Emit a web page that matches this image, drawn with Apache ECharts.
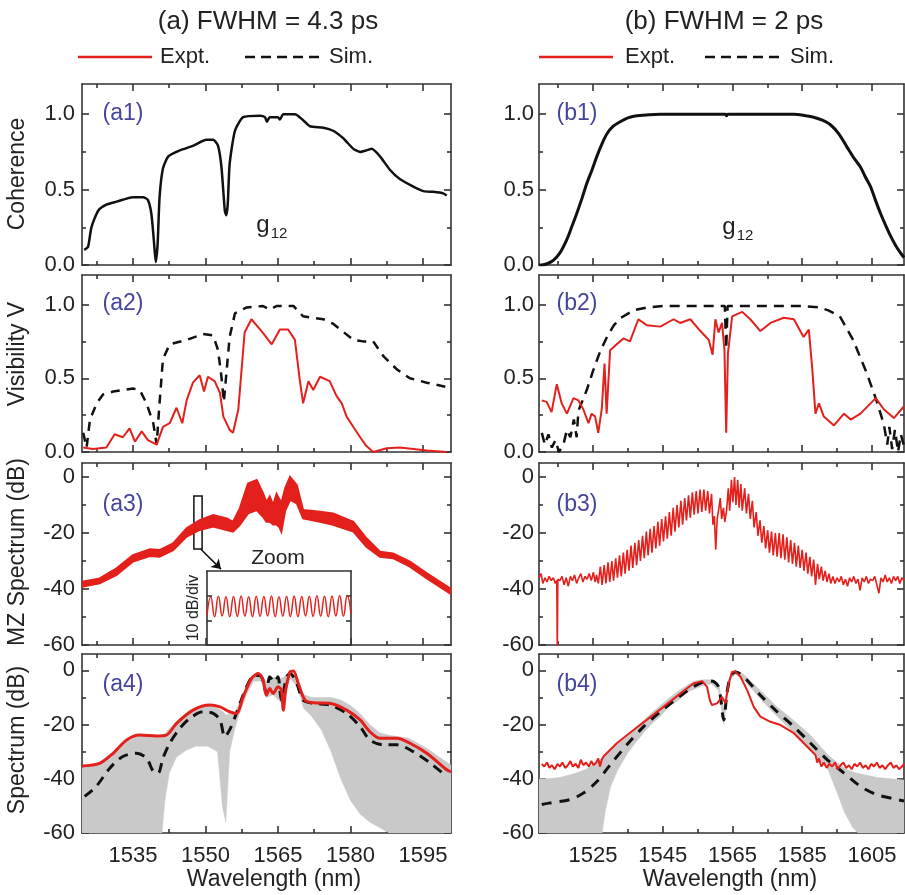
<!DOCTYPE html>
<html><head><meta charset="utf-8">
<script src="https://cdn.jsdelivr.net/npm/echarts@6/dist/echarts.min.js"></script>
<style>html,body{margin:0;padding:0;background:#fff}#c{width:905px;height:895px}</style>
</head><body><div id="c"></div><script>
// ---------- DATA ----------
const leftTicks = [1535,1550,1565,1580,1595];
const leftMinor = [1527.5,1542.5,1557.5,1572.5,1587.5];
const rightTicks = [1525,1545,1565,1585,1605];
const rightMinor = [1515,1535,1555,1575,1595];
const cohTicks = [0,0.5,1.0], cohMinor = [0.25,0.75];
const dbTicks = [-60,-40,-20,0], dbMinor = [-50,-30,-10];

const a1Coherence = [[1524.9,0.10],[1525.7,0.12],[1526.4,0.25],[1527.8,0.36],[1529.5,0.40],[1531.6,0.42],[1535.0,0.45],[1537.1,0.45],[1538.1,0.43],[1538.8,0.34],[1539.3,0.17],[1539.7,0.02],[1540.1,0.14],[1540.5,0.45],[1541.2,0.64],[1542.3,0.72],[1544.7,0.76],[1547.4,0.79],[1550.2,0.83],[1551.6,0.83],[1552.6,0.79],[1553.3,0.65],[1554.0,0.36],[1554.3,0.33],[1554.6,0.40],[1555.0,0.67],[1556.1,0.89],[1557.8,0.98],[1561.3,0.99],[1562.3,0.98],[1562.7,0.95],[1563.3,0.98],[1565.0,0.98],[1565.4,0.965],[1566.1,1.0],[1568.5,1.0],[1570.2,0.96],[1571.6,0.92],[1574.4,0.91],[1576.4,0.89],[1578.5,0.84],[1580.6,0.77],[1582.0,0.75],[1583.3,0.76],[1584.4,0.77],[1586.1,0.72],[1588.2,0.63],[1590.2,0.57],[1593.0,0.52],[1595.1,0.49],[1597.1,0.485],[1599.2,0.475],[1599.9,0.46]];
const b1Coherence = [[1509.6,0.0],[1510.3,0.0],[1512.0,0.01],[1513.6,0.03],[1515.5,0.08],[1517.5,0.17],[1519.0,0.26],[1520.3,0.34],[1521.8,0.44],[1523.2,0.54],[1524.7,0.63],[1526.1,0.72],[1527.5,0.80],[1529.0,0.87],[1530.8,0.92],[1532.8,0.95],[1535.0,0.975],[1537.6,0.99],[1544.3,1.0],[1555.0,1.0],[1563.0,1.0],[1563.3,0.99],[1563.6,1.0],[1575.0,1.0],[1582.6,1.0],[1586.0,0.99],[1588.3,0.98],[1590.8,0.96],[1593.1,0.93],[1595.5,0.87],[1597.9,0.78],[1599.8,0.71],[1601.7,0.65],[1603.2,0.58],[1604.6,0.52],[1606.0,0.43],[1607.5,0.34],[1609.0,0.26],[1610.4,0.19],[1611.8,0.13],[1613.2,0.08],[1614.2,0.05]];

const a2Expt = [[1524.7,0.03],[1526.7,0.02],[1529.5,0.03],[1531.2,0.12],[1532.9,0.10],[1534.3,0.16],[1535.4,0.07],[1536.8,0.14],[1538.1,0.08],[1539.9,0.05],[1541.2,0.17],[1542.6,0.195],[1544.0,0.30],[1545.2,0.195],[1546.1,0.35],[1547.4,0.47],[1548.8,0.52],[1549.7,0.41],[1550.5,0.51],[1551.9,0.48],[1553.0,0.40],[1553.7,0.24],[1555.0,0.15],[1555.7,0.13],[1556.8,0.29],[1558.1,0.81],[1559.5,0.90],[1561.6,0.82],[1563.7,0.73],[1565.4,0.83],[1567.1,0.83],[1568.5,0.76],[1569.5,0.49],[1570.2,0.33],[1571.3,0.48],[1572.3,0.42],[1573.7,0.51],[1575.7,0.48],[1577.1,0.38],[1578.2,0.33],[1579.2,0.24],[1580.6,0.17],[1582.0,0.10],[1583.3,0.04],[1584.7,0.0],[1587.5,0.025],[1590.2,0.03],[1593.0,0.02],[1595.8,0.01],[1599.9,0.0]];
const a2Sim = [[1524.7,0.13],[1525.4,0.03],[1526.1,0.22],[1527.5,0.33],[1528.8,0.39],[1530.9,0.41],[1535.0,0.43],[1536.4,0.42],[1537.8,0.33],[1539.2,0.195],[1539.9,0.05],[1540.4,0.29],[1541.2,0.63],[1542.6,0.73],[1546.1,0.76],[1549.5,0.80],[1551.6,0.79],[1552.6,0.69],[1553.3,0.51],[1553.8,0.34],[1554.4,0.56],[1555.0,0.78],[1556.1,0.94],[1558.5,0.98],[1561.9,0.99],[1563.3,0.965],[1564.7,0.99],[1568.2,0.99],[1570.2,0.92],[1574.4,0.90],[1576.4,0.87],[1580.6,0.76],[1582.6,0.75],[1584.7,0.75],[1586.8,0.65],[1589.6,0.56],[1592.3,0.50],[1595.8,0.47],[1599.9,0.44]];

const b2Expt = [[1510.3,0.35],[1511.7,0.34],[1513.1,0.27],[1514.6,0.46],[1516.0,0.33],[1517.5,0.26],[1519.4,0.365],[1520.8,0.35],[1522.2,0.29],[1523.7,0.195],[1524.6,0.26],[1525.6,0.24],[1526.5,0.13],[1527.5,0.29],[1528.3,0.60],[1528.9,0.26],[1529.9,0.69],[1531.8,0.73],[1533.7,0.77],[1535.6,0.75],[1538.0,0.90],[1540.4,0.86],[1544.3,0.85],[1548.1,0.90],[1550.0,0.875],[1552.9,0.90],[1555.8,0.82],[1558.2,0.76],[1559.3,0.66],[1560.1,0.90],[1561.0,0.81],[1562.0,0.875],[1562.7,0.69],[1563.2,0.13],[1563.7,0.67],[1564.9,0.92],[1567.8,0.95],[1570.1,0.90],[1573.0,0.82],[1575.9,0.875],[1579.7,0.91],[1582.6,0.90],[1585.4,0.78],[1586.9,0.83],[1587.9,0.56],[1588.8,0.26],[1589.8,0.33],[1591.2,0.24],[1594.1,0.18],[1597.0,0.26],[1598.9,0.22],[1601.7,0.26],[1606.1,0.365],[1608.4,0.29],[1611.3,0.23],[1614.2,0.31]];
const b2Sim = [[1510.3,0.13],[1511.2,0.05],[1512.2,0.12],[1513.2,0.03],[1514.2,0.08],[1515.2,0.0],[1516.5,0.05],[1517.5,0.15],[1518.5,0.1],[1519.5,0.22],[1520.3,0.1],[1520.8,0.28],[1523.2,0.42],[1525.0,0.55],[1527.0,0.68],[1529.0,0.78],[1531.0,0.86],[1533.0,0.91],[1536.6,0.96],[1540.4,0.98],[1545.0,0.99],[1562.8,0.99],[1563.2,0.70],[1563.6,0.99],[1585.0,0.99],[1590.0,0.98],[1592.5,0.96],[1595.8,0.92],[1599.6,0.76],[1603.5,0.535],[1606.3,0.35],[1608.4,0.19],[1609.4,0.05],[1610.0,0.17],[1610.8,0.02],[1611.6,0.15],[1612.5,0.0],[1613.3,0.12],[1614.2,0.04]];

const a3Wl = [1524.45,1528.1,1531.6,1535.0,1538.5,1540.5,1543.3,1546.1,1548.8,1551.6,1554.4,1555.7,1557.1,1558.8,1560.6,1561.9,1562.6,1563.3,1564.0,1564.7,1565.3,1565.7,1566.5,1567.5,1568.9,1570.2,1573.7,1576.4,1580.6,1583.3,1586.1,1588.8,1592.3,1595.8,1600.8];
const a3Upper = [-37.4,-36.2,-32.6,-27.9,-25.8,-26.1,-23.7,-18.3,-15.4,-13.6,-14.8,-16,-11.2,-2.3,-1.1,-5.8,-9,-7,-10,-6,-8,-9.3,-4,0,-2.9,-11.8,-12.4,-13,-16,-21.9,-26.7,-27.3,-30.2,-34.4,-40];
const a3Lower = [-39.2,-38,-35,-30.2,-28.2,-28.5,-26.1,-21.3,-18.9,-17.7,-18.9,-19.5,-17.1,-13,-11.8,-14.2,-16,-16,-17,-17,-18,-19.5,-12,-8.2,-9.4,-14.8,-16,-17.1,-19.5,-24.9,-28.5,-29,-32,-36.2,-41.8];
const zoomInset = [12,19.5,11.5,19.8,11.8,19.6,11.5,19.7,11.6,19.9,11.7,19.6,11.5,19.8,11.6,19.7,11.8,19.9,11.5,19.6,11.7,19.8,11.6,19.9,11.5,19.7,11.8,19.8,11.6,20,11.7,19.8,11.5,19.9,11.8,20.1,11.7,20,12.5];
const zoomBox = [[1547.6,-6.8],[1549.3,-25.7]];
const zoomArrow = [[1549.0,-25.7],[1553.2,-32.9]];

const b3Spectrum = [[1509.5,-36],[1510.1,-34.5],[1510.6,-38],[1511.2,-36],[1511.8,-37.5],[1512.4,-35.5],[1513.0,-37],[1513.6,-36],[1514.2,-38],[1514.6,-37],[1514.75,-62],[1514.9,-36.5],[1515.5,-37],[1516.1,-35.5],[1516.7,-38.5],[1517.3,-36],[1517.9,-39],[1518.5,-35.5],[1519.1,-37],[1519.7,-35],[1520.3,-38],[1520.9,-36],[1521.5,-34.5],[1522.1,-37.5],[1522.7,-35.5],[1523.3,-36.5],[1523.9,-34.5],[1524.5,-37],[1525.1,-34],[1525.6,-37.5],
[1526.0,-35],[1526.5,-38],[1527.1,-32],[1527.6,-38.5],[1528.2,-31.5],[1528.7,-38],[1529.3,-30.5],[1529.8,-37.5],[1530.4,-30],[1530.9,-37],[1531.5,-29],[1532.0,-36],[1532.6,-28],[1533.1,-35.5],[1533.7,-27],[1534.2,-34.5],[1534.8,-26],[1535.3,-33.5],[1535.9,-24.5],[1536.4,-32.5],[1537.0,-23.5],[1537.5,-31.5],[1538.1,-22.5],[1538.6,-30],[1539.2,-21],[1539.7,-29],[1540.3,-19.5],[1540.8,-28],[1541.4,-18.5],[1541.9,-27],[1542.5,-17.5],[1543.0,-25.5],[1543.6,-16],[1544.1,-24.5],[1544.7,-15],[1545.2,-23],[1545.8,-14],[1546.3,-22],[1546.9,-12.5],[1547.4,-21],[1548.0,-11],[1548.5,-19.5],[1549.1,-10],[1549.6,-18],[1550.2,-8.5],[1550.7,-17],[1551.3,-7.5],[1551.8,-15.5],[1552.4,-6.5],[1552.9,-14.5],[1553.5,-5.5],[1554.0,-13.5],[1554.6,-5],[1555.1,-13],[1555.7,-4.5],[1556.2,-12.5],[1556.8,-4.5],[1557.3,-12],[1557.9,-5],[1558.4,-13],
[1559.0,-6],[1559.4,-17],[1559.8,-14],[1560.2,-26],[1560.6,-15],[1561.0,-12],[1561.5,-7.5],[1561.9,-15],[1562.4,-11],[1562.8,-16],[1563.3,-12],[1563.8,-4],[1564.2,-12],[1564.7,-1],[1565.1,-9],[1565.6,0],[1566.0,-10],[1566.5,-1],[1566.9,-11],[1567.4,-2.5],[1567.8,-12],
[1568.5,-4],[1569.0,-13],[1569.6,-6],[1570.1,-15],[1570.7,-8.5],[1571.2,-18],[1571.8,-12.5],[1572.3,-21],[1572.9,-15.5],[1573.4,-23.5],[1574.0,-17.5],[1574.5,-25.5],[1575.1,-19],[1575.6,-27],[1576.2,-19.5],[1576.7,-28],[1577.3,-20],[1577.8,-28.5],[1578.4,-20],[1578.9,-29],[1579.5,-20.5],[1580.0,-29.5],[1580.6,-21.5],[1581.1,-30.5],[1581.7,-22.5],[1582.2,-31],[1582.8,-23.5],[1583.3,-32],[1583.9,-24.5],[1584.4,-32.5],[1585.0,-26],[1585.5,-33.5],[1586.1,-27],[1586.6,-34.5],[1587.2,-28.5],[1587.7,-35.5],[1588.3,-29.5],[1588.8,-38.5],[1589.4,-31],[1589.9,-36.5],[1590.5,-32],[1591.0,-37],[1591.6,-33.5],[1592.1,-37.5],[1592.7,-34.5],[1593.2,-38],
[1593.8,-35.5],[1594.4,-38],[1595.0,-36],[1595.6,-37.5],[1596.2,-35.5],[1596.8,-38.5],[1597.4,-36.5],[1598.0,-39],[1598.6,-36],[1599.2,-37.5],[1599.8,-35.5],[1600.4,-38],[1601.0,-36.5],[1601.6,-40.5],[1602.2,-36],[1602.8,-37.5],[1603.4,-35.5],[1604.0,-38],[1604.6,-36.5],[1605.2,-37],[1605.8,-35.5],[1606.4,-38.5],[1607.0,-41.5],[1607.6,-36],[1608.2,-37.5],[1608.8,-35],[1609.4,-37.5],[1610.0,-36],[1610.6,-38],[1611.2,-35.5],[1611.8,-37],[1612.4,-35.5],[1613.0,-38],[1613.6,-36],[1614.2,-37]];

const a4Expt = [[1524.45,-35.3],[1528.1,-34.3],[1530.9,-30.6],[1533.7,-25.7],[1536.4,-23.9],[1539.9,-24.2],[1541.9,-23.9],[1544.0,-19.6],[1547.4,-14.7],[1550.9,-12.8],[1553.0,-13.5],[1555.0,-15.3],[1556.4,-15.9],[1557.8,-9.8],[1559.5,-3.1],[1560.9,-1.2],[1561.9,-3.7],[1562.6,-9.2],[1563.3,-6.7],[1564.0,-8.6],[1565.0,-6.1],[1565.7,-7.3],[1566.1,-14.7],[1566.6,-7.3],[1567.5,-0.6],[1568.2,-0.3],[1569.2,-4.9],[1570.6,-11],[1572.3,-12],[1575.7,-12.2],[1579.2,-14.7],[1582.0,-18.3],[1584.0,-22.6],[1586.1,-25.1],[1589.6,-25.1],[1592.3,-26.9],[1595.8,-30.6],[1599.9,-36.7],[1600.8,-37.5]];
const a4Sim = [[1525.0,-46.5],[1527.4,-42.8],[1530.2,-36.1],[1532.9,-31.8],[1535.7,-30.6],[1537.8,-32.4],[1539.2,-37.3],[1540.2,-37.9],[1541.2,-32.4],[1542.6,-26.9],[1544.7,-21.4],[1546.8,-17.7],[1549.5,-15.3],[1551.6,-15.9],[1553.0,-18.3],[1554.0,-24.5],[1555.0,-22],[1556.4,-15.9],[1558.5,-6.1],[1560.2,-1.8],[1561.6,-2.4],[1562.6,-8.6],[1563.3,-2.4],[1564.3,-4.3],[1565.0,-2.4],[1565.7,-11],[1566.8,-2.4],[1567.5,-1.2],[1568.9,-4.9],[1570.2,-11],[1572.3,-12.2],[1575.7,-12.8],[1579.2,-15.9],[1582.0,-20.8],[1584.0,-25.7],[1586.8,-27.5],[1589.6,-27.5],[1593.0,-30],[1596.5,-34.2],[1599.9,-39.2]];
const a4GrayWl  = [1524.45,1528,1531,1534,1536.5,1539.5,1541,1541.6,1542.5,1544,1546,1548,1550.5,1552.5,1553.5,1554.2,1555,1556,1557,1558.5,1560,1561.5,1562.6,1564,1565.7,1566.6,1567.5,1569,1570.3,1572,1574,1576,1578,1580,1582,1584,1586,1588,1592,1596,1600.8];
const a4GrayTop = [-36,-35,-31,-26,-24,-24.5,-24,-23.5,-21.5,-19.5,-16.5,-14.5,-13,-14,-15,-16.5,-16,-16,-12,-6,-2,-1.5,-4,-2.5,-3,-2,-0.5,-3,-9,-10,-10,-10,-11,-13,-16,-20,-23,-24,-25,-29,-35];
const a4GrayBot = [-60,-60,-60,-60,-60,-60,-60,-48,-38,-32,-29.5,-28,-28,-30,-50,-56,-30,-22,-16,-9,-4,-4,-10,-9,-12,-8,-3,-6,-14,-17,-22,-30,-40,-48,-53,-56,-58,-60,-60,-60,-60];

const b4Expt = [[1510.3,-34.5],[1511.0,-35.5],[1511.8,-34],[1512.5,-36],[1513.2,-35],[1514.0,-36.5],[1514.8,-34.5],[1515.5,-35.5],[1516.2,-34],[1517.0,-36],[1517.8,-35],[1518.5,-33.5],[1519.2,-35.5],[1520.0,-34.5],[1520.8,-36],[1521.5,-33],[1522.2,-35],[1523.0,-34],[1523.8,-35.5],[1524.5,-33.5],[1525.2,-35],[1525.9,-34],[1526.5,-32.5],[1527.0,-35.5],[1527.5,-33],[1528.0,-31.8],[1531.8,-26.9],[1536.6,-22],[1540.4,-18.3],[1545.2,-13.5],[1550.0,-8.6],[1553.8,-4.9],[1556.3,-4.0],[1557.7,-6.1],[1558.5,-11],[1559.1,-12.8],[1560.6,-12.2],[1562.0,-9.8],[1563.0,-12.2],[1563.9,-4.9],[1564.9,-0.6],[1565.8,-0.4],[1567.3,-2.4],[1569.2,-7.3],[1571.1,-13.5],[1573.0,-17.1],[1575.9,-19],[1578.8,-20.2],[1582.6,-23.2],[1586.4,-28.1],[1588.8,-31.2],[1589.3,-34],[1589.8,-32.5],[1590.5,-35.5],[1591.2,-34],[1592.0,-36],[1592.8,-34.5],[1593.6,-35.5],[1594.4,-34],[1595.2,-36.5],[1596.0,-35],[1596.8,-34],[1597.6,-36],[1598.4,-35],[1599.2,-36.5],[1600.0,-34.5],[1600.8,-35.5],[1601.6,-34],[1602.4,-36],[1603.2,-35],[1604.0,-36.5],[1604.8,-34.5],[1605.6,-35.5],[1606.4,-34],[1607.2,-36],[1608.0,-35],[1608.8,-36.5],[1609.6,-35],[1610.4,-34],[1611.2,-36],[1612.0,-35],[1612.8,-36.5],[1613.6,-35.5],[1614.2,-34.5]];
const b4Sim = [[1510.3,-49.5],[1512.7,-48.9],[1518.4,-47.7],[1522.2,-45.3],[1526.1,-41],[1529.9,-34.9],[1534.7,-27.5],[1539.5,-20.8],[1544.3,-15.3],[1549.1,-10.4],[1553.8,-6.1],[1556.7,-4.3],[1559.1,-4.0],[1561.0,-6.1],[1562.5,-18.3],[1563.4,-8.6],[1564.4,-2.4],[1565.8,-0.6],[1568.2,-2.4],[1573.0,-9.2],[1577.8,-15.3],[1582.6,-20.8],[1587.4,-26.9],[1592.2,-33],[1597.0,-37.9],[1601.7,-42.8],[1606.5,-45.9],[1611.3,-47.4],[1614.2,-48.2]];
const b4GrayWl  = [1509.5,1512,1515.5,1520,1523,1526,1527.6,1528.5,1530,1532,1534.7,1537,1539.5,1542,1544.3,1547,1549.1,1552,1554,1556.7,1559,1561,1562.5,1563.4,1564.4,1565.8,1568.2,1573,1577.8,1582.6,1587.4,1592.2,1595,1597,1599.5,1601,1606.5,1614.2];
const b4GrayTop = [-40,-40,-39.5,-38,-36.5,-34,-32.5,-31.5,-29.5,-27,-24.5,-21.5,-18.5,-15.5,-13,-10,-8,-5.5,-4,-3.5,-3.5,-5,-14,-6,-1.5,0,-1.5,-7.5,-13.5,-18.5,-24,-31,-34,-36,-37.5,-38,-39.5,-40.5];
const b4GrayBot = [-60,-60,-60,-60,-60,-60,-60,-52,-43,-37,-31,-27,-23,-19.5,-17,-13,-11.5,-8,-7,-5.5,-5,-7.5,-20,-10,-3.5,-1.5,-3.5,-10.5,-17,-23,-30,-36,-45,-52,-58,-60,-60,-60];

// ---------- LAYOUT / STYLE ----------
const FONT = '"Liberation Sans", Arial, Helvetica, sans-serif';
const TXT = '#222', AX = '#333', RED = '#e3201b', BLK = '#111', GRAY = '#c9c9c9', BLUE = '#45459e';
const cols = [
  {left:82, width:369, min:1524.45, max:1600.8, major:leftTicks, minor:leftMinor, lm:7},
  {left:539, width:365, min:1509.5, max:1614.2, major:rightTicks, minor:rightMinor, lm:5}
];
const rows = [
  {top:84, height:181, min:0, max:1.2, major:cohTicks, minor:cohMinor, dec:1},
  {top:275, height:177, min:0, max:1.2, major:cohTicks, minor:cohMinor, dec:1},
  {top:463, height:182, min:-60, max:5, major:dbTicks, minor:dbMinor, dec:0},
  {top:654, height:179, min:-60, max:6, major:dbTicks, minor:dbMinor, dec:0}
];
const option = {animation:false, backgroundColor:'#fff', grid:[], xAxis:[], yAxis:[], series:[], graphic:[]};
const lineSt = {color:AX, width:1.6};
function axis(g, pos, min, max, ticks, len, showLine, label) {
  return {type:'value', gridIndex:g, position:pos, min:min, max:max,
    axisLine:{show:showLine, onZero:false, lineStyle:lineSt},
    axisTick:{show:true, inside:true, length:len, customValues:ticks, lineStyle:lineSt},
    axisLabel: label ? Object.assign({show:true, customValues:ticks, color:TXT, fontSize:22, fontFamily:FONT}, label) : {show:false},
    splitLine:{show:false}, minorTick:{show:false}};
}
rows.forEach((row, r) => cols.forEach((col, c) => {
  const p = option.grid.length;
  option.grid.push({left:col.left, top:row.top, width:col.width, height:row.height, containLabel:false, outerBoundsMode:'none'});
  const xl = (r === 3) ? {margin:12, formatter: v => String(v)} : null;
  option.xAxis.push(axis(p, 'bottom', col.min, col.max, col.major, 7, true, xl));
  option.xAxis.push(axis(p, 'bottom', col.min, col.max, col.minor, 4, false, null));
  option.xAxis.push(axis(p, 'top', col.min, col.max, col.major, 7, true, null));
  option.xAxis.push(axis(p, 'top', col.min, col.max, col.minor, 4, false, null));
  const yl = {margin:col.lm, formatter: v => row.dec ? v.toFixed(1) : String(v)};
  option.yAxis.push(axis(p, 'left', row.min, row.max, row.major, 7, true, yl));
  option.yAxis.push(axis(p, 'left', row.min, row.max, row.minor, 4, false, null));
  option.yAxis.push(axis(p, 'right', row.min, row.max, row.major, 7, true, null));
  option.yAxis.push(axis(p, 'right', row.min, row.max, row.minor, 4, false, null));
}));
// inset grid (index 8)
option.grid.push({left:207, top:571, width:144, height:74, containLabel:false, outerBoundsMode:'none'});
option.xAxis.push(axis(8, 'bottom', 0, zoomInset.length - 1, [], 4, true, null));
option.xAxis.push(axis(8, 'top', 0, zoomInset.length - 1, [], 4, true, null));
option.yAxis.push(axis(8, 'left', 0, 30, [10,20], 5, true, null));
option.yAxis.push(axis(8, 'right', 0, 30, [10,20], 5, true, null));

function ln(p, data, color, width, dash, smooth, z) {
  return {type:'line', xAxisIndex:p*4, yAxisIndex:p*4, data:data, symbol:'none', showSymbol:false, silent:true,
    smooth:smooth || false, z:z || 3, lineStyle:{color:color, width:width, type:dash || 'solid'}};
}
// filled band between two envelopes, drawn as one polygon through the axis scales
function band(p, wl, top, bot, color, z, edge) {
  return {type:'custom', xAxisIndex:p*4, yAxisIndex:p*4, data:[[wl[0], top[0]]], clip:true, silent:true, z:z,
    renderItem: (params, api) => {
      const pts = wl.map((w, i) => api.coord([w, top[i]]));
      for (let i = wl.length - 1; i >= 0; i--) pts.push(api.coord([wl[i], bot[i]]));
      return {type:'polygon', shape:{points:pts}, style:{fill:color, stroke:color, lineWidth:edge}};
    }};
}
const S = option.series;
S.push(ln(0, a1Coherence, BLK, 2.5, null, 0.2));
S.push(ln(1, b1Coherence, BLK, 3, null, 0.3));
S.push(ln(2, a2Sim, BLK, 2.5, [9,7], false));
S.push(ln(2, a2Expt, RED, 2, null, false, 4));
S.push(ln(3, b2Sim, BLK, 2.5, [10,7], false));
S.push(ln(3, b2Expt, RED, 2, null, false, 4));
S.push(band(4, a3Wl, a3Upper, a3Lower, RED, 3, 2));
S.push({type:'line', xAxisIndex:16, yAxisIndex:16, data:[], symbol:'none', silent:true, z:6,
  markArea:{silent:true, itemStyle:{color:'rgba(0,0,0,0)', borderColor:BLK, borderWidth:1.5},
    data:[[{coord:zoomBox[0]},{coord:zoomBox[1]}]]},
  markLine:{silent:true, symbol:['none','arrow'], symbolSize:9, label:{show:false},
    lineStyle:{color:BLK, width:1.5, type:'solid'},
    data:[[{coord:zoomArrow[0]},{coord:zoomArrow[1]}]]}});
S.push({type:'line', xAxisIndex:32, yAxisIndex:32, data:zoomInset.map((v,i)=>[i,v]), symbol:'none', silent:true,
  smooth:true, lineStyle:{color:RED, width:1.5}});
S.push(ln(5, b3Spectrum, RED, 1.6, null, false));
S.push(band(6, a4GrayWl, a4GrayTop, a4GrayBot, GRAY, 2, 0.5));
S.push(ln(6, a4Sim, BLK, 3, [10,7], 0.3, 3));
S.push(ln(6, a4Expt, RED, 3, null, 0.3, 4));
S.push(band(7, b4GrayWl, b4GrayTop, b4GrayBot, GRAY, 2, 0.5));
S.push(ln(7, b4Sim, BLK, 3, [10,8], 0.3, 3));
S.push(ln(7, b4Expt, RED, 2, null, false, 4));

// ---------- TEXT ----------
const G = option.graphic;
function txt(x, y, s, size, opts) {
  G.push(Object.assign({type:'text', x:x, y:y, silent:true, z:100,
    style:Object.assign({text:s, fontSize:size, fontFamily:FONT, fill:TXT, align:'center', verticalAlign:'middle'}, (opts && opts.style) || {})},
    (opts && opts.rotation) ? {rotation:opts.rotation} : {}));
}
function seg(x1, x2, y, color, dash) {
  G.push({type:'line', silent:true, z:100, shape:{x1:x1, y1:y, x2:x2, y2:y}, style:{stroke:color, lineWidth:2.5, lineDash:dash || null}});
}
txt(268, 22, '(a) FWHM = 4.3 ps', 26);
txt(724, 22, '(b) FWHM = 2 ps', 26);
seg(78, 152, 57, RED); txt(160, 57, 'Expt.', 22, {style:{align:'left'}});
seg(245, 322, 57, BLK, [10,6]); txt(329, 57, 'Sim.', 22, {style:{align:'left'}});
seg(539, 613, 57, RED); txt(625, 57, 'Expt.', 22, {style:{align:'left'}});
seg(705, 782, 57, BLK, [10,6]); txt(790, 57, 'Sim.', 22, {style:{align:'left'}});
const panelY = [114, 304, 505, 685];
['1','2','3','4'].forEach((n, i) => {
  txt(123, panelY[i], '(a' + n + ')', 23, {style:{fill:BLUE}});
  txt(577, panelY[i], '(b' + n + ')', 23, {style:{fill:BLUE}});
});
txt(263, 225, 'g', 24); txt(279, 234, '12', 15);
txt(729, 227, 'g', 24); txt(745, 236, '12', 15);
const R90 = Math.PI / 2;
txt(18, 174, 'Coherence', 23, {rotation:R90});
txt(18, 354, 'Visibility V', 23, {rotation:R90});
txt(18, 552, 'MZ Spectrum (dB)', 23, {rotation:R90});
txt(18, 740, 'Spectrum (dB)', 23, {rotation:R90});
txt(274, 880, 'Wavelength (nm)', 23);
txt(730, 880, 'Wavelength (nm)', 23);
txt(278, 558, 'Zoom', 21);
txt(194, 608, '10 dB/div', 16, {rotation:R90});

const chart = echarts.init(document.getElementById('c'), null, {renderer:'canvas'});
chart.setOption(option);
</script></body></html>
